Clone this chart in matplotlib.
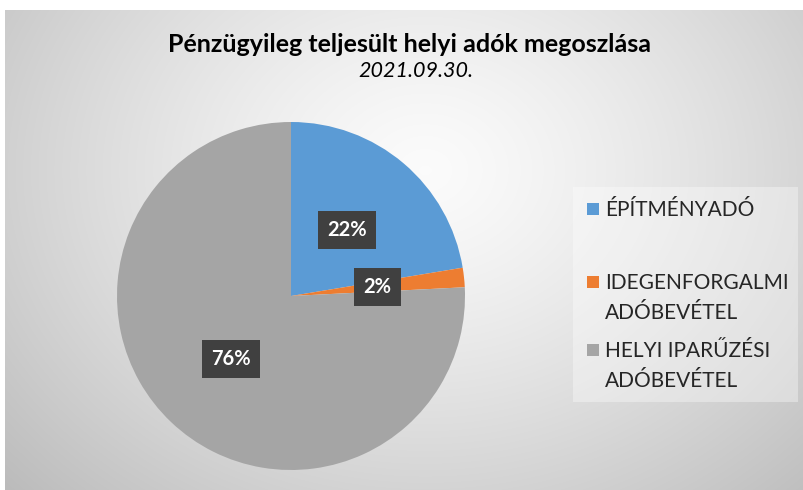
import numpy as np
import matplotlib
matplotlib.use("Agg")
import matplotlib.pyplot as plt
from matplotlib.patches import Rectangle

# adatok
kategoriak = ["ÉPÍTMÉNYADÓ", "IDEGENFORGALMI\nADÓBEVÉTEL", "HELYI IPARŰZÉSI\nADÓBEVÉTEL"]
ertekek = [22.4, 1.8, 75.8]
szinek = ["#5b9bd5", "#ed7d31", "#a5a5a5"]
cim = "Pénzügyileg teljesült helyi adók megoszlása"
alcim = "2021.09.30."

plt.rcParams['font.family'] = ['Lato', 'DejaVu Sans']

W, H = 804, 490
fig = plt.figure(figsize=(W / 100, H / 100), dpi=100)
fig.patch.set_facecolor("white")

# háttér: radiális szürke átmenet
bg = fig.add_axes([5 / W, 0, (W - 5) / W, (H - 10) / H])
yy, xx = np.mgrid[0:480, 0:799]
r = np.sqrt(((xx - 420) / 520.0) ** 2 + ((yy - 160) / 420.0) ** 2)
v = 0.985 - 0.22 * np.clip(r, 0, 1.3) ** 1.3
bg.imshow(np.dstack([v, v, v]), aspect="auto", extent=[0, 799, 480, 0])
bg.set_axis_off()

# kördiagram
ax = fig.add_axes([117 / W, 20 / H, 348 / W, 348 / H])
wedges, _, autotexts = ax.pie(
    ertekek, colors=szinek, startangle=90, counterclock=False,
    autopct="%1.0f%%", pctdistance=0.5,
    wedgeprops=dict(linewidth=0),
    textprops=dict(color="white", fontsize=14.5, fontweight="bold"))
for t in autotexts:
    t.set_bbox(dict(boxstyle="square,pad=0.45", fc="#404040", ec="none"))
ax.set_xlim(-1, 1)
ax.set_ylim(-1, 1)
ax.set_aspect("equal")
ax.set_axis_off()

# cím
fig.text(409 / W, 1 - 52.5 / H, cim, ha="center", va="baseline",
         fontsize=18, fontweight="bold", color="#000000")
fig.text(416 / W, 1 - 77 / H, alcim, ha="center", va="baseline",
         fontsize=15.5, style="italic", color="#000000")

# jelmagyarázat kézzel
fig.patches.append(Rectangle((573 / W, 1 - 402 / H), 225 / W, 215 / H,
                             transform=fig.transFigure, fc="white", alpha=0.35,
                             ec="none"))
sor_y = [209, 282, 350]
for nev, szin, y in zip(kategoriak, szinek, sor_y):
    fig.patches.append(Rectangle((587 / W, 1 - (y + 6) / H), 12 / W, 12 / H,
                                 transform=fig.transFigure, fc=szin, ec="none"))
    for i, sor in enumerate(nev.split("\n")):
        fig.text(605 / W, 1 - (y + 30 * i + 7) / H, sor, ha="left", va="baseline",
                 fontsize=15, color="#262626")

fig.savefig("out.png", dpi=100)
